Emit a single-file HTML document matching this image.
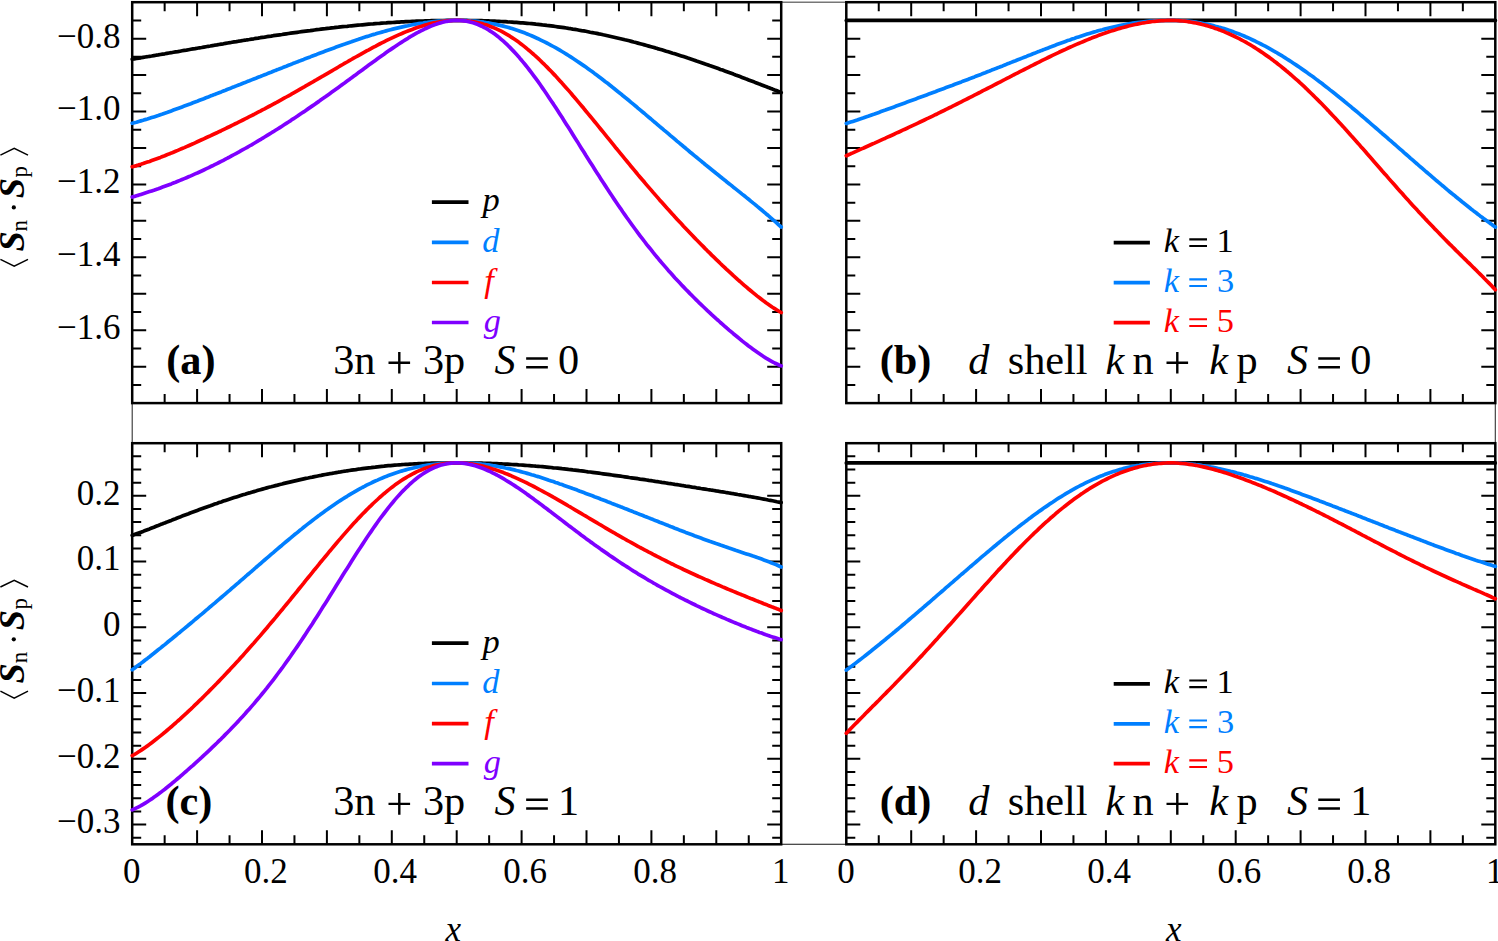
<!DOCTYPE html><html><head><meta charset="utf-8"><style>html,body{margin:0;padding:0;background:#fff;overflow:hidden}svg{display:block}text{font-family:"Liberation Serif",serif;}</style></head><body>
<svg width="1498" height="941" viewBox="0 0 1498 941">
<rect width="1498" height="941" fill="#fff"/>
<path d="M781.2,2.2H846.3" stroke="#777" stroke-width="1.4" fill="none"/>
<path d="M132.2,403.1V443.2M1495.3,403.1V443.2" stroke="#333" stroke-width="1.1" fill="none"/>
<path d="M781.2,844.3H846.3" stroke="#111" stroke-width="1.1" fill="none"/>
<path d="M164.65,2.2v9M164.65,403.1v-9M197.10,2.2v14M197.10,403.1v-14M229.55,2.2v9M229.55,403.1v-9M262.00,2.2v14M262.00,403.1v-14M294.45,2.2v9M294.45,403.1v-9M326.90,2.2v14M326.90,403.1v-14M359.35,2.2v9M359.35,403.1v-9M391.80,2.2v14M391.80,403.1v-14M424.25,2.2v9M424.25,403.1v-9M456.70,2.2v14M456.70,403.1v-14M489.15,2.2v9M489.15,403.1v-9M521.60,2.2v14M521.60,403.1v-14M554.05,2.2v9M554.05,403.1v-9M586.50,2.2v14M586.50,403.1v-14M618.95,2.2v9M618.95,403.1v-9M651.40,2.2v14M651.40,403.1v-14M683.85,2.2v9M683.85,403.1v-9M716.30,2.2v14M716.30,403.1v-14M748.75,2.2v9M748.75,403.1v-9M132.2,20.42h9M781.2,20.42h-9M132.2,38.65h14M781.2,38.65h-14M132.2,56.87h9M781.2,56.87h-9M132.2,75.09h14M781.2,75.09h-14M132.2,93.31h9M781.2,93.31h-9M132.2,111.54h14M781.2,111.54h-14M132.2,129.76h9M781.2,129.76h-9M132.2,147.98h14M781.2,147.98h-14M132.2,166.20h9M781.2,166.20h-9M132.2,184.43h14M781.2,184.43h-14M132.2,202.65h9M781.2,202.65h-9M132.2,220.87h14M781.2,220.87h-14M132.2,239.10h9M781.2,239.10h-9M132.2,257.32h14M781.2,257.32h-14M132.2,275.54h9M781.2,275.54h-9M132.2,293.76h14M781.2,293.76h-14M132.2,311.99h9M781.2,311.99h-9M132.2,330.21h14M781.2,330.21h-14M132.2,348.43h9M781.2,348.43h-9M132.2,366.65h14M781.2,366.65h-14M132.2,384.88h9M781.2,384.88h-9" stroke="#000" stroke-width="2" fill="none"/>
<rect x="132.2" y="2.2" width="649.0" height="400.90000000000003" fill="none" stroke="#000" stroke-width="2.5"/>
<path d="M878.75,2.2v9M878.75,403.1v-9M911.20,2.2v14M911.20,403.1v-14M943.65,2.2v9M943.65,403.1v-9M976.10,2.2v14M976.10,403.1v-14M1008.55,2.2v9M1008.55,403.1v-9M1041.00,2.2v14M1041.00,403.1v-14M1073.45,2.2v9M1073.45,403.1v-9M1105.90,2.2v14M1105.90,403.1v-14M1138.35,2.2v9M1138.35,403.1v-9M1170.80,2.2v14M1170.80,403.1v-14M1203.25,2.2v9M1203.25,403.1v-9M1235.70,2.2v14M1235.70,403.1v-14M1268.15,2.2v9M1268.15,403.1v-9M1300.60,2.2v14M1300.60,403.1v-14M1333.05,2.2v9M1333.05,403.1v-9M1365.50,2.2v14M1365.50,403.1v-14M1397.95,2.2v9M1397.95,403.1v-9M1430.40,2.2v14M1430.40,403.1v-14M1462.85,2.2v9M1462.85,403.1v-9M846.3,20.42h9M1495.3,20.42h-9M846.3,38.65h14M1495.3,38.65h-14M846.3,56.87h9M1495.3,56.87h-9M846.3,75.09h14M1495.3,75.09h-14M846.3,93.31h9M1495.3,93.31h-9M846.3,111.54h14M1495.3,111.54h-14M846.3,129.76h9M1495.3,129.76h-9M846.3,147.98h14M1495.3,147.98h-14M846.3,166.20h9M1495.3,166.20h-9M846.3,184.43h14M1495.3,184.43h-14M846.3,202.65h9M1495.3,202.65h-9M846.3,220.87h14M1495.3,220.87h-14M846.3,239.10h9M1495.3,239.10h-9M846.3,257.32h14M1495.3,257.32h-14M846.3,275.54h9M1495.3,275.54h-9M846.3,293.76h14M1495.3,293.76h-14M846.3,311.99h9M1495.3,311.99h-9M846.3,330.21h14M1495.3,330.21h-14M846.3,348.43h9M1495.3,348.43h-9M846.3,366.65h14M1495.3,366.65h-14M846.3,384.88h9M1495.3,384.88h-9" stroke="#000" stroke-width="2" fill="none"/>
<rect x="846.3" y="2.2" width="649.0" height="400.90000000000003" fill="none" stroke="#000" stroke-width="2.5"/>
<path d="M164.65,443.2v9M164.65,844.3v-9M197.10,443.2v14M197.10,844.3v-14M229.55,443.2v9M229.55,844.3v-9M262.00,443.2v14M262.00,844.3v-14M294.45,443.2v9M294.45,844.3v-9M326.90,443.2v14M326.90,844.3v-14M359.35,443.2v9M359.35,844.3v-9M391.80,443.2v14M391.80,844.3v-14M424.25,443.2v9M424.25,844.3v-9M456.70,443.2v14M456.70,844.3v-14M489.15,443.2v9M489.15,844.3v-9M521.60,443.2v14M521.60,844.3v-14M554.05,443.2v9M554.05,844.3v-9M586.50,443.2v14M586.50,844.3v-14M618.95,443.2v9M618.95,844.3v-9M651.40,443.2v14M651.40,844.3v-14M683.85,443.2v9M683.85,844.3v-9M716.30,443.2v14M716.30,844.3v-14M748.75,443.2v9M748.75,844.3v-9M132.2,456.35h9M781.2,456.35h-9M132.2,469.50h9M781.2,469.50h-9M132.2,482.65h9M781.2,482.65h-9M132.2,495.80h14M781.2,495.80h-14M132.2,508.95h9M781.2,508.95h-9M132.2,522.10h9M781.2,522.10h-9M132.2,535.26h9M781.2,535.26h-9M132.2,548.41h9M781.2,548.41h-9M132.2,561.56h14M781.2,561.56h-14M132.2,574.71h9M781.2,574.71h-9M132.2,587.86h9M781.2,587.86h-9M132.2,601.01h9M781.2,601.01h-9M132.2,614.16h9M781.2,614.16h-9M132.2,627.31h14M781.2,627.31h-14M132.2,640.46h9M781.2,640.46h-9M132.2,653.61h9M781.2,653.61h-9M132.2,666.76h9M781.2,666.76h-9M132.2,679.91h9M781.2,679.91h-9M132.2,693.07h14M781.2,693.07h-14M132.2,706.22h9M781.2,706.22h-9M132.2,719.37h9M781.2,719.37h-9M132.2,732.52h9M781.2,732.52h-9M132.2,745.67h9M781.2,745.67h-9M132.2,758.82h14M781.2,758.82h-14M132.2,771.97h9M781.2,771.97h-9M132.2,785.12h9M781.2,785.12h-9M132.2,798.27h9M781.2,798.27h-9M132.2,811.42h9M781.2,811.42h-9M132.2,824.57h14M781.2,824.57h-14M132.2,837.72h9M781.2,837.72h-9" stroke="#000" stroke-width="2" fill="none"/>
<rect x="132.2" y="443.2" width="649.0" height="401.09999999999997" fill="none" stroke="#000" stroke-width="2.5"/>
<path d="M878.75,443.2v9M878.75,844.3v-9M911.20,443.2v14M911.20,844.3v-14M943.65,443.2v9M943.65,844.3v-9M976.10,443.2v14M976.10,844.3v-14M1008.55,443.2v9M1008.55,844.3v-9M1041.00,443.2v14M1041.00,844.3v-14M1073.45,443.2v9M1073.45,844.3v-9M1105.90,443.2v14M1105.90,844.3v-14M1138.35,443.2v9M1138.35,844.3v-9M1170.80,443.2v14M1170.80,844.3v-14M1203.25,443.2v9M1203.25,844.3v-9M1235.70,443.2v14M1235.70,844.3v-14M1268.15,443.2v9M1268.15,844.3v-9M1300.60,443.2v14M1300.60,844.3v-14M1333.05,443.2v9M1333.05,844.3v-9M1365.50,443.2v14M1365.50,844.3v-14M1397.95,443.2v9M1397.95,844.3v-9M1430.40,443.2v14M1430.40,844.3v-14M1462.85,443.2v9M1462.85,844.3v-9M846.3,456.35h9M1495.3,456.35h-9M846.3,469.50h9M1495.3,469.50h-9M846.3,482.65h9M1495.3,482.65h-9M846.3,495.80h14M1495.3,495.80h-14M846.3,508.95h9M1495.3,508.95h-9M846.3,522.10h9M1495.3,522.10h-9M846.3,535.26h9M1495.3,535.26h-9M846.3,548.41h9M1495.3,548.41h-9M846.3,561.56h14M1495.3,561.56h-14M846.3,574.71h9M1495.3,574.71h-9M846.3,587.86h9M1495.3,587.86h-9M846.3,601.01h9M1495.3,601.01h-9M846.3,614.16h9M1495.3,614.16h-9M846.3,627.31h14M1495.3,627.31h-14M846.3,640.46h9M1495.3,640.46h-9M846.3,653.61h9M1495.3,653.61h-9M846.3,666.76h9M1495.3,666.76h-9M846.3,679.91h9M1495.3,679.91h-9M846.3,693.07h14M1495.3,693.07h-14M846.3,706.22h9M1495.3,706.22h-9M846.3,719.37h9M1495.3,719.37h-9M846.3,732.52h9M1495.3,732.52h-9M846.3,745.67h9M1495.3,745.67h-9M846.3,758.82h14M1495.3,758.82h-14M846.3,771.97h9M1495.3,771.97h-9M846.3,785.12h9M1495.3,785.12h-9M846.3,798.27h9M1495.3,798.27h-9M846.3,811.42h9M1495.3,811.42h-9M846.3,824.57h14M1495.3,824.57h-14M846.3,837.72h9M1495.3,837.72h-9" stroke="#000" stroke-width="2" fill="none"/>
<rect x="846.3" y="443.2" width="649.0" height="401.09999999999997" fill="none" stroke="#000" stroke-width="2.5"/>
<g fill="none" stroke-width="3.7" stroke-linejoin="round" stroke-linecap="round">
<path d="M132.2,59.2L134.4,58.8L136.5,58.5L138.7,58.1L140.9,57.8L143.1,57.4L145.2,57.0L147.4,56.7L149.6,56.3L151.7,56.0L153.9,55.6L156.1,55.2L158.2,54.9L160.4,54.5L162.6,54.1L164.8,53.8L166.9,53.4L169.1,53.0L171.3,52.7L173.4,52.3L175.6,51.9L177.8,51.6L180.0,51.2L182.1,50.8L184.3,50.4L186.5,50.1L188.6,49.7L190.8,49.3L193.0,48.9L195.1,48.6L197.3,48.2L199.5,47.8L201.7,47.5L203.8,47.1L206.0,46.7L208.2,46.3L210.3,46.0L212.5,45.6L214.7,45.2L216.9,44.9L219.0,44.5L221.2,44.1L223.4,43.8L225.5,43.4L227.7,43.0L229.9,42.7L232.0,42.3L234.2,41.9L236.4,41.6L238.6,41.2L240.7,40.9L242.9,40.5L245.1,40.2L247.2,39.8L249.4,39.5L251.6,39.1L253.8,38.8L255.9,38.4L258.1,38.1L260.3,37.7L262.4,37.4L264.6,37.1L266.8,36.7L268.9,36.4L271.1,36.1L273.3,35.7L275.5,35.4L277.6,35.1L279.8,34.8L282.0,34.5L284.1,34.1L286.3,33.8L288.5,33.5L290.7,33.2L292.8,32.9L295.0,32.6L297.2,32.3L299.3,32.0L301.5,31.7L303.7,31.4L305.8,31.1L308.0,30.8L310.2,30.6L312.4,30.3L314.5,30.0L316.7,29.7L318.9,29.5L321.0,29.2L323.2,28.9L325.4,28.7L327.6,28.4L329.7,28.2L331.9,27.9L334.1,27.7L336.2,27.4L338.4,27.2L340.6,26.9L342.7,26.7L344.9,26.5L347.1,26.3L349.3,26.0L351.4,25.8L353.6,25.6L355.8,25.4L357.9,25.2L360.1,25.0L362.3,24.8L364.5,24.6L366.6,24.4L368.8,24.2L371.0,24.0L373.1,23.9L375.3,23.7L377.5,23.5L379.6,23.4L381.8,23.2L384.0,23.0L386.2,22.9L388.3,22.7L390.5,22.6L392.7,22.5L394.8,22.3L397.0,22.2L399.2,22.1L401.4,21.9L403.5,21.8L405.7,21.7L407.9,21.6L410.0,21.5L412.2,21.4L414.4,21.3L416.5,21.2L418.7,21.1L420.9,21.1L423.1,21.0L425.2,20.9L427.4,20.8L429.6,20.8L431.7,20.7L433.9,20.7L436.1,20.6L438.3,20.6L440.4,20.5L442.6,20.5L444.8,20.5L446.9,20.4L449.1,20.4L451.3,20.4L453.4,20.4L455.6,20.4L457.8,20.4L460.0,20.4L462.1,20.4L464.3,20.4L466.5,20.4L468.6,20.5L470.8,20.5L473.0,20.5L475.1,20.6L477.3,20.6L479.5,20.7L481.7,20.7L483.8,20.8L486.0,20.8L488.2,20.9L490.3,21.0L492.5,21.1L494.7,21.2L496.9,21.3L499.0,21.4L501.2,21.5L503.4,21.6L505.5,21.7L507.7,21.9L509.9,22.0L512.0,22.1L514.2,22.3L516.4,22.4L518.6,22.6L520.7,22.8L522.9,22.9L525.1,23.1L527.2,23.3L529.4,23.5L531.6,23.7L533.8,23.9L535.9,24.2L538.1,24.4L540.3,24.6L542.4,24.9L544.6,25.1L546.8,25.4L548.9,25.6L551.1,25.9L553.3,26.2L555.5,26.5L557.6,26.8L559.8,27.1L562.0,27.4L564.1,27.7L566.3,28.0L568.5,28.4L570.7,28.7L572.8,29.1L575.0,29.4L577.2,29.8L579.3,30.2L581.5,30.6L583.7,30.9L585.8,31.3L588.0,31.7L590.2,32.2L592.4,32.6L594.5,33.0L596.7,33.4L598.9,33.9L601.0,34.3L603.2,34.8L605.4,35.2L607.6,35.7L609.7,36.2L611.9,36.7L614.1,37.2L616.2,37.7L618.4,38.2L620.6,38.7L622.7,39.2L624.9,39.8L627.1,40.3L629.3,40.8L631.4,41.4L633.6,42.0L635.8,42.5L637.9,43.1L640.1,43.7L642.3,44.3L644.5,44.9L646.6,45.5L648.8,46.1L651.0,46.7L653.1,47.3L655.3,47.9L657.5,48.6L659.6,49.2L661.8,49.8L664.0,50.5L666.2,51.2L668.3,51.8L670.5,52.5L672.7,53.2L674.8,53.8L677.0,54.5L679.2,55.2L681.4,55.9L683.5,56.6L685.7,57.3L687.9,58.1L690.0,58.8L692.2,59.5L694.4,60.2L696.5,61.0L698.7,61.7L700.9,62.4L703.1,63.2L705.2,64.0L707.4,64.7L709.6,65.5L711.7,66.2L713.9,67.0L716.1,67.8L718.3,68.6L720.4,69.4L722.6,70.1L724.8,70.9L726.9,71.7L729.1,72.5L731.3,73.3L733.4,74.1L735.6,75.0L737.8,75.8L740.0,76.6L742.1,77.4L744.3,78.2L746.5,79.1L748.6,79.9L750.8,80.7L753.0,81.5L755.2,82.4L757.3,83.2L759.5,84.1L761.7,84.9L763.8,85.7L766.0,86.6L768.2,87.4L770.3,88.3L772.5,89.1L774.7,90.0L776.9,90.8L779.0,91.7L781.2,92.6" stroke="#000000"/>
<path d="M132.2,123.3L134.4,122.7L136.5,122.2L138.7,121.5L140.9,120.9L143.1,120.3L145.2,119.6L147.4,119.0L149.6,118.3L151.7,117.6L153.9,116.9L156.1,116.2L158.2,115.5L160.4,114.7L162.6,114.0L164.8,113.2L166.9,112.5L169.1,111.7L171.3,110.9L173.4,110.1L175.6,109.3L177.8,108.5L180.0,107.7L182.1,106.9L184.3,106.1L186.5,105.3L188.6,104.5L190.8,103.7L193.0,102.8L195.1,102.0L197.3,101.2L199.5,100.3L201.7,99.5L203.8,98.7L206.0,97.8L208.2,97.0L210.3,96.1L212.5,95.3L214.7,94.4L216.9,93.6L219.0,92.7L221.2,91.9L223.4,91.0L225.5,90.2L227.7,89.3L229.9,88.5L232.0,87.6L234.2,86.8L236.4,85.9L238.6,85.0L240.7,84.2L242.9,83.3L245.1,82.5L247.2,81.6L249.4,80.8L251.6,79.9L253.8,79.0L255.9,78.2L258.1,77.3L260.3,76.5L262.4,75.6L264.6,74.7L266.8,73.9L268.9,73.0L271.1,72.2L273.3,71.3L275.5,70.4L277.6,69.6L279.8,68.7L282.0,67.9L284.1,67.0L286.3,66.2L288.5,65.3L290.7,64.5L292.8,63.6L295.0,62.8L297.2,61.9L299.3,61.1L301.5,60.2L303.7,59.4L305.8,58.5L308.0,57.7L310.2,56.9L312.4,56.0L314.5,55.2L316.7,54.4L318.9,53.5L321.0,52.7L323.2,51.9L325.4,51.1L327.6,50.3L329.7,49.5L331.9,48.7L334.1,47.9L336.2,47.1L338.4,46.3L340.6,45.5L342.7,44.7L344.9,44.0L347.1,43.2L349.3,42.4L351.4,41.7L353.6,40.9L355.8,40.2L357.9,39.5L360.1,38.7L362.3,38.0L364.5,37.3L366.6,36.6L368.8,36.0L371.0,35.3L373.1,34.6L375.3,34.0L377.5,33.3L379.6,32.7L381.8,32.1L384.0,31.5L386.2,30.9L388.3,30.3L390.5,29.7L392.7,29.1L394.8,28.6L397.0,28.1L399.2,27.6L401.4,27.1L403.5,26.6L405.7,26.1L407.9,25.7L410.0,25.2L412.2,24.8L414.4,24.4L416.5,24.0L418.7,23.6L420.9,23.3L423.1,23.0L425.2,22.6L427.4,22.4L429.6,22.1L431.7,21.8L433.9,21.6L436.1,21.4L438.3,21.2L440.4,21.0L442.6,20.9L444.8,20.7L446.9,20.6L449.1,20.5L451.3,20.5L453.4,20.4L455.6,20.4L457.8,20.4L460.0,20.4L462.1,20.5L464.3,20.5L466.5,20.6L468.6,20.7L470.8,20.9L473.0,21.0L475.1,21.2L477.3,21.4L479.5,21.7L481.7,21.9L483.8,22.2L486.0,22.6L488.2,22.9L490.3,23.3L492.5,23.7L494.7,24.1L496.9,24.6L499.0,25.1L501.2,25.6L503.4,26.1L505.5,26.7L507.7,27.3L509.9,27.9L512.0,28.6L514.2,29.3L516.4,30.0L518.6,30.7L520.7,31.5L522.9,32.3L525.1,33.1L527.2,34.0L529.4,34.9L531.6,35.8L533.8,36.8L535.9,37.7L538.1,38.7L540.3,39.8L542.4,40.8L544.6,41.9L546.8,43.0L548.9,44.1L551.1,45.3L553.3,46.5L555.5,47.7L557.6,48.9L559.8,50.2L562.0,51.5L564.1,52.8L566.3,54.1L568.5,55.5L570.7,56.9L572.8,58.3L575.0,59.7L577.2,61.2L579.3,62.6L581.5,64.1L583.7,65.6L585.8,67.1L588.0,68.7L590.2,70.3L592.4,71.8L594.5,73.4L596.7,75.0L598.9,76.7L601.0,78.3L603.2,80.0L605.4,81.7L607.6,83.3L609.7,85.0L611.9,86.8L614.1,88.5L616.2,90.2L618.4,92.0L620.6,93.7L622.7,95.5L624.9,97.3L627.1,99.0L629.3,100.8L631.4,102.6L633.6,104.4L635.8,106.2L637.9,108.1L640.1,109.9L642.3,111.7L644.5,113.5L646.6,115.4L648.8,117.2L651.0,119.0L653.1,120.9L655.3,122.7L657.5,124.6L659.6,126.4L661.8,128.2L664.0,130.1L666.2,131.9L668.3,133.7L670.5,135.6L672.7,137.4L674.8,139.2L677.0,141.1L679.2,142.9L681.4,144.7L683.5,146.5L685.7,148.3L687.9,150.2L690.0,152.0L692.2,153.8L694.4,155.6L696.5,157.3L698.7,159.1L700.9,160.9L703.1,162.7L705.2,164.5L707.4,166.2L709.6,168.0L711.7,169.7L713.9,171.5L716.1,173.3L718.3,175.0L720.4,176.7L722.6,178.5L724.8,180.2L726.9,182.0L729.1,183.7L731.3,185.4L733.4,187.2L735.6,188.9L737.8,190.6L740.0,192.4L742.1,194.1L744.3,195.8L746.5,197.6L748.6,199.3L750.8,201.1L753.0,202.9L755.2,204.6L757.3,206.4L759.5,208.2L761.7,210.0L763.8,211.8L766.0,213.7L768.2,215.5L770.3,217.4L772.5,219.3L774.7,221.2L776.9,223.1L779.0,225.1L781.2,227.0" stroke="#007FFF"/>
<path d="M132.2,166.8L134.4,166.2L136.5,165.6L138.7,164.9L140.9,164.3L143.1,163.6L145.2,162.8L147.4,162.1L149.6,161.4L151.7,160.6L153.9,159.8L156.1,159.0L158.2,158.2L160.4,157.4L162.6,156.5L164.8,155.7L166.9,154.8L169.1,153.9L171.3,153.1L173.4,152.2L175.6,151.3L177.8,150.4L180.0,149.4L182.1,148.5L184.3,147.6L186.5,146.6L188.6,145.7L190.8,144.7L193.0,143.8L195.1,142.8L197.3,141.8L199.5,140.8L201.7,139.8L203.8,138.8L206.0,137.8L208.2,136.8L210.3,135.8L212.5,134.8L214.7,133.8L216.9,132.8L219.0,131.7L221.2,130.7L223.4,129.6L225.5,128.6L227.7,127.5L229.9,126.5L232.0,125.4L234.2,124.3L236.4,123.3L238.6,122.2L240.7,121.1L242.9,120.0L245.1,118.9L247.2,117.8L249.4,116.7L251.6,115.6L253.8,114.5L255.9,113.3L258.1,112.2L260.3,111.1L262.4,109.9L264.6,108.8L266.8,107.6L268.9,106.5L271.1,105.3L273.3,104.1L275.5,103.0L277.6,101.8L279.8,100.6L282.0,99.4L284.1,98.2L286.3,97.0L288.5,95.8L290.7,94.6L292.8,93.3L295.0,92.1L297.2,90.9L299.3,89.7L301.5,88.4L303.7,87.2L305.8,85.9L308.0,84.7L310.2,83.4L312.4,82.2L314.5,80.9L316.7,79.7L318.9,78.4L321.0,77.1L323.2,75.9L325.4,74.6L327.6,73.3L329.7,72.1L331.9,70.8L334.1,69.5L336.2,68.3L338.4,67.0L340.6,65.7L342.7,64.5L344.9,63.2L347.1,62.0L349.3,60.7L351.4,59.5L353.6,58.2L355.8,57.0L357.9,55.8L360.1,54.6L362.3,53.3L364.5,52.1L366.6,50.9L368.8,49.8L371.0,48.6L373.1,47.4L375.3,46.3L377.5,45.1L379.6,44.0L381.8,42.9L384.0,41.8L386.2,40.7L388.3,39.6L390.5,38.6L392.7,37.6L394.8,36.6L397.0,35.6L399.2,34.6L401.4,33.7L403.5,32.8L405.7,31.9L407.9,31.0L410.0,30.2L412.2,29.4L414.4,28.6L416.5,27.8L418.7,27.1L420.9,26.4L423.1,25.7L425.2,25.1L427.4,24.5L429.6,23.9L431.7,23.4L433.9,22.9L436.1,22.5L438.3,22.1L440.4,21.7L442.6,21.4L444.8,21.1L446.9,20.9L449.1,20.7L451.3,20.6L453.4,20.5L455.6,20.4L457.8,20.4L460.0,20.4L462.1,20.5L464.3,20.7L466.5,20.8L468.6,21.1L470.8,21.3L473.0,21.7L475.1,22.0L477.3,22.5L479.5,23.0L481.7,23.5L483.8,24.2L486.0,24.8L488.2,25.6L490.3,26.4L492.5,27.2L494.7,28.1L496.9,29.1L499.0,30.1L501.2,31.2L503.4,32.4L505.5,33.6L507.7,34.9L509.9,36.2L512.0,37.6L514.2,39.0L516.4,40.5L518.6,42.1L520.7,43.7L522.9,45.4L525.1,47.1L527.2,48.9L529.4,50.7L531.6,52.6L533.8,54.5L535.9,56.4L538.1,58.4L540.3,60.5L542.4,62.6L544.6,64.7L546.8,66.9L548.9,69.1L551.1,71.3L553.3,73.6L555.5,75.9L557.6,78.3L559.8,80.7L562.0,83.1L564.1,85.5L566.3,87.9L568.5,90.4L570.7,92.9L572.8,95.5L575.0,98.0L577.2,100.6L579.3,103.1L581.5,105.7L583.7,108.3L585.8,111.0L588.0,113.6L590.2,116.2L592.4,118.9L594.5,121.5L596.7,124.2L598.9,126.9L601.0,129.5L603.2,132.2L605.4,134.9L607.6,137.6L609.7,140.2L611.9,142.9L614.1,145.6L616.2,148.3L618.4,150.9L620.6,153.6L622.7,156.2L624.9,158.9L627.1,161.5L629.3,164.1L631.4,166.8L633.6,169.4L635.8,172.0L637.9,174.6L640.1,177.2L642.3,179.7L644.5,182.3L646.6,184.9L648.8,187.4L651.0,189.9L653.1,192.4L655.3,194.9L657.5,197.4L659.6,199.9L661.8,202.3L664.0,204.8L666.2,207.2L668.3,209.6L670.5,212.0L672.7,214.4L674.8,216.8L677.0,219.2L679.2,221.5L681.4,223.8L683.5,226.2L685.7,228.5L687.9,230.8L690.0,233.0L692.2,235.3L694.4,237.6L696.5,239.8L698.7,242.0L700.9,244.2L703.1,246.4L705.2,248.6L707.4,250.8L709.6,252.9L711.7,255.1L713.9,257.2L716.1,259.3L718.3,261.4L720.4,263.5L722.6,265.6L724.8,267.6L726.9,269.7L729.1,271.7L731.3,273.7L733.4,275.7L735.6,277.6L737.8,279.6L740.0,281.5L742.1,283.4L744.3,285.3L746.5,287.2L748.6,289.0L750.8,290.8L753.0,292.6L755.2,294.4L757.3,296.1L759.5,297.8L761.7,299.5L763.8,301.1L766.0,302.7L768.2,304.2L770.3,305.7L772.5,307.2L774.7,308.6L776.9,310.0L779.0,311.3L781.2,312.5" stroke="#FF0000"/>
<path d="M132.2,197.0L134.4,196.4L136.5,195.7L138.7,195.1L140.9,194.4L143.1,193.7L145.2,193.0L147.4,192.3L149.6,191.6L151.7,190.9L153.9,190.2L156.1,189.4L158.2,188.7L160.4,187.9L162.6,187.1L164.8,186.3L166.9,185.5L169.1,184.7L171.3,183.9L173.4,183.0L175.6,182.2L177.8,181.3L180.0,180.4L182.1,179.5L184.3,178.6L186.5,177.7L188.6,176.8L190.8,175.9L193.0,174.9L195.1,173.9L197.3,173.0L199.5,172.0L201.7,171.0L203.8,170.0L206.0,168.9L208.2,167.9L210.3,166.8L212.5,165.8L214.7,164.7L216.9,163.6L219.0,162.5L221.2,161.4L223.4,160.3L225.5,159.2L227.7,158.0L229.9,156.9L232.0,155.7L234.2,154.5L236.4,153.3L238.6,152.2L240.7,150.9L242.9,149.7L245.1,148.5L247.2,147.3L249.4,146.0L251.6,144.8L253.8,143.5L255.9,142.2L258.1,140.9L260.3,139.7L262.4,138.3L264.6,137.0L266.8,135.7L268.9,134.4L271.1,133.0L273.3,131.7L275.5,130.3L277.6,129.0L279.8,127.6L282.0,126.2L284.1,124.8L286.3,123.4L288.5,122.0L290.7,120.6L292.8,119.1L295.0,117.7L297.2,116.3L299.3,114.8L301.5,113.3L303.7,111.9L305.8,110.4L308.0,108.9L310.2,107.4L312.4,105.9L314.5,104.4L316.7,102.9L318.9,101.4L321.0,99.8L323.2,98.3L325.4,96.8L327.6,95.2L329.7,93.7L331.9,92.1L334.1,90.5L336.2,89.0L338.4,87.4L340.6,85.8L342.7,84.2L344.9,82.7L347.1,81.1L349.3,79.5L351.4,77.9L353.6,76.3L355.8,74.7L357.9,73.1L360.1,71.5L362.3,69.9L364.5,68.3L366.6,66.7L368.8,65.1L371.0,63.5L373.1,62.0L375.3,60.4L377.5,58.8L379.6,57.3L381.8,55.7L384.0,54.2L386.2,52.6L388.3,51.1L390.5,49.6L392.7,48.1L394.8,46.7L397.0,45.2L399.2,43.8L401.4,42.4L403.5,41.0L405.7,39.6L407.9,38.3L410.0,36.9L412.2,35.7L414.4,34.4L416.5,33.2L418.7,32.0L420.9,30.9L423.1,29.8L425.2,28.7L427.4,27.7L429.6,26.8L431.7,25.9L433.9,25.0L436.1,24.3L438.3,23.5L440.4,22.9L442.6,22.3L444.8,21.8L446.9,21.3L449.1,21.0L451.3,20.7L453.4,20.5L455.6,20.4L457.8,20.4L460.0,20.5L462.1,20.7L464.3,20.9L466.5,21.2L468.6,21.7L470.8,22.2L473.0,22.8L475.1,23.5L477.3,24.3L479.5,25.2L481.7,26.2L483.8,27.3L486.0,28.4L488.2,29.7L490.3,31.1L492.5,32.5L494.7,34.1L496.9,35.7L499.0,37.4L501.2,39.3L503.4,41.2L505.5,43.1L507.7,45.2L509.9,47.4L512.0,49.6L514.2,51.9L516.4,54.3L518.6,56.7L520.7,59.3L522.9,61.9L525.1,64.5L527.2,67.2L529.4,70.0L531.6,72.9L533.8,75.8L535.9,78.7L538.1,81.7L540.3,84.8L542.4,87.9L544.6,91.0L546.8,94.2L548.9,97.4L551.1,100.7L553.3,103.9L555.5,107.3L557.6,110.6L559.8,114.0L562.0,117.3L564.1,120.7L566.3,124.2L568.5,127.6L570.7,131.0L572.8,134.5L575.0,138.0L577.2,141.4L579.3,144.9L581.5,148.4L583.7,151.8L585.8,155.3L588.0,158.7L590.2,162.2L592.4,165.6L594.5,169.0L596.7,172.4L598.9,175.8L601.0,179.2L603.2,182.6L605.4,185.9L607.6,189.2L609.7,192.5L611.9,195.8L614.1,199.1L616.2,202.3L618.4,205.5L620.6,208.6L622.7,211.8L624.9,214.9L627.1,218.0L629.3,221.0L631.4,224.0L633.6,227.0L635.8,230.0L637.9,232.9L640.1,235.8L642.3,238.6L644.5,241.5L646.6,244.3L648.8,247.0L651.0,249.7L653.1,252.4L655.3,255.1L657.5,257.7L659.6,260.3L661.8,262.9L664.0,265.4L666.2,267.9L668.3,270.4L670.5,272.8L672.7,275.3L674.8,277.7L677.0,280.0L679.2,282.3L681.4,284.7L683.5,286.9L685.7,289.2L687.9,291.4L690.0,293.6L692.2,295.8L694.4,298.0L696.5,300.1L698.7,302.3L700.9,304.4L703.1,306.5L705.2,308.5L707.4,310.6L709.6,312.6L711.7,314.6L713.9,316.6L716.1,318.6L718.3,320.5L720.4,322.5L722.6,324.4L724.8,326.3L726.9,328.2L729.1,330.1L731.3,331.9L733.4,333.7L735.6,335.5L737.8,337.3L740.0,339.1L742.1,340.9L744.3,342.6L746.5,344.3L748.6,346.0L750.8,347.6L753.0,349.2L755.2,350.8L757.3,352.3L759.5,353.8L761.7,355.3L763.8,356.7L766.0,358.1L768.2,359.4L770.3,360.6L772.5,361.8L774.7,363.0L776.9,364.0L779.0,365.0L781.2,365.9" stroke="#7F00FF"/>
</g>
<g fill="none" stroke-width="3.7" stroke-linejoin="round" stroke-linecap="round">
<path d="M846.3,20.4H1495.3" stroke="#000000"/>
<path d="M846.3,123.5L848.5,122.8L850.6,122.1L852.8,121.4L855.0,120.7L857.2,120.0L859.3,119.2L861.5,118.5L863.7,117.8L865.8,117.0L868.0,116.3L870.2,115.5L872.3,114.7L874.5,114.0L876.7,113.2L878.9,112.4L881.0,111.6L883.2,110.8L885.4,110.1L887.5,109.3L889.7,108.5L891.9,107.7L894.1,106.9L896.2,106.1L898.4,105.3L900.6,104.5L902.7,103.7L904.9,102.9L907.1,102.1L909.2,101.3L911.4,100.5L913.6,99.7L915.8,98.9L917.9,98.1L920.1,97.3L922.3,96.5L924.4,95.7L926.6,94.9L928.8,94.1L931.0,93.3L933.1,92.5L935.3,91.7L937.5,90.8L939.6,90.0L941.8,89.2L944.0,88.4L946.1,87.6L948.3,86.8L950.5,86.0L952.7,85.2L954.8,84.3L957.0,83.5L959.2,82.7L961.3,81.9L963.5,81.0L965.7,80.2L967.9,79.4L970.0,78.6L972.2,77.7L974.4,76.9L976.5,76.0L978.7,75.2L980.9,74.4L983.0,73.5L985.2,72.7L987.4,71.8L989.6,71.0L991.7,70.1L993.9,69.3L996.1,68.4L998.2,67.6L1000.4,66.7L1002.6,65.9L1004.8,65.0L1006.9,64.1L1009.1,63.3L1011.3,62.4L1013.4,61.5L1015.6,60.7L1017.8,59.8L1019.9,59.0L1022.1,58.1L1024.3,57.2L1026.5,56.4L1028.6,55.5L1030.8,54.7L1033.0,53.8L1035.1,53.0L1037.3,52.1L1039.5,51.3L1041.7,50.4L1043.8,49.6L1046.0,48.7L1048.2,47.9L1050.3,47.1L1052.5,46.2L1054.7,45.4L1056.8,44.6L1059.0,43.8L1061.2,43.0L1063.4,42.2L1065.5,41.4L1067.7,40.6L1069.9,39.9L1072.0,39.1L1074.2,38.4L1076.4,37.6L1078.6,36.9L1080.7,36.2L1082.9,35.5L1085.1,34.8L1087.2,34.1L1089.4,33.4L1091.6,32.7L1093.7,32.1L1095.9,31.5L1098.1,30.8L1100.3,30.2L1102.4,29.7L1104.6,29.1L1106.8,28.5L1108.9,28.0L1111.1,27.5L1113.3,27.0L1115.5,26.5L1117.6,26.0L1119.8,25.5L1122.0,25.1L1124.1,24.7L1126.3,24.3L1128.5,23.9L1130.6,23.5L1132.8,23.2L1135.0,22.9L1137.2,22.6L1139.3,22.3L1141.5,22.0L1143.7,21.8L1145.8,21.6L1148.0,21.4L1150.2,21.2L1152.4,21.0L1154.5,20.9L1156.7,20.8L1158.9,20.7L1161.0,20.6L1163.2,20.5L1165.4,20.5L1167.5,20.4L1169.7,20.4L1171.9,20.4L1174.1,20.4L1176.2,20.5L1178.4,20.6L1180.6,20.7L1182.7,20.8L1184.9,21.0L1187.1,21.2L1189.2,21.4L1191.4,21.6L1193.6,21.9L1195.8,22.2L1197.9,22.5L1200.1,22.9L1202.3,23.3L1204.4,23.7L1206.6,24.1L1208.8,24.6L1211.0,25.1L1213.1,25.6L1215.3,26.2L1217.5,26.7L1219.6,27.4L1221.8,28.0L1224.0,28.6L1226.1,29.3L1228.3,30.1L1230.5,30.8L1232.7,31.6L1234.8,32.4L1237.0,33.2L1239.2,34.0L1241.3,34.9L1243.5,35.8L1245.7,36.8L1247.9,37.7L1250.0,38.7L1252.2,39.7L1254.4,40.7L1256.5,41.8L1258.7,42.9L1260.9,44.0L1263.0,45.1L1265.2,46.2L1267.4,47.4L1269.6,48.6L1271.7,49.8L1273.9,51.1L1276.1,52.3L1278.2,53.6L1280.4,54.9L1282.6,56.2L1284.8,57.6L1286.9,59.0L1289.1,60.4L1291.3,61.8L1293.4,63.2L1295.6,64.6L1297.8,66.1L1299.9,67.6L1302.1,69.1L1304.3,70.6L1306.5,72.1L1308.6,73.7L1310.8,75.3L1313.0,76.8L1315.1,78.4L1317.3,80.1L1319.5,81.7L1321.7,83.3L1323.8,85.0L1326.0,86.7L1328.2,88.4L1330.3,90.1L1332.5,91.8L1334.7,93.5L1336.8,95.2L1339.0,97.0L1341.2,98.7L1343.4,100.5L1345.5,102.3L1347.7,104.1L1349.9,105.9L1352.0,107.7L1354.2,109.5L1356.4,111.3L1358.6,113.1L1360.7,115.0L1362.9,116.8L1365.1,118.7L1367.2,120.5L1369.4,122.4L1371.6,124.3L1373.7,126.1L1375.9,128.0L1378.1,129.9L1380.3,131.8L1382.4,133.7L1384.6,135.5L1386.8,137.4L1388.9,139.3L1391.1,141.2L1393.3,143.1L1395.5,145.0L1397.6,146.9L1399.8,148.8L1402.0,150.7L1404.1,152.6L1406.3,154.5L1408.5,156.4L1410.6,158.3L1412.8,160.2L1415.0,162.1L1417.2,164.0L1419.3,165.9L1421.5,167.7L1423.7,169.6L1425.8,171.5L1428.0,173.3L1430.2,175.2L1432.4,177.1L1434.5,178.9L1436.7,180.8L1438.9,182.6L1441.0,184.4L1443.2,186.2L1445.4,188.1L1447.5,189.9L1449.7,191.7L1451.9,193.5L1454.1,195.2L1456.2,197.0L1458.4,198.8L1460.6,200.5L1462.7,202.3L1464.9,204.0L1467.1,205.7L1469.3,207.5L1471.4,209.2L1473.6,210.9L1475.8,212.5L1477.9,214.2L1480.1,215.9L1482.3,217.5L1484.4,219.1L1486.6,220.7L1488.8,222.3L1491.0,223.9L1493.1,225.5L1495.3,227.1" stroke="#007FFF"/>
<path d="M846.3,155.8L848.5,154.8L850.6,153.8L852.8,152.9L855.0,151.9L857.2,150.9L859.3,149.9L861.5,148.9L863.7,148.0L865.8,147.0L868.0,146.0L870.2,145.0L872.3,144.0L874.5,143.1L876.7,142.1L878.9,141.1L881.0,140.1L883.2,139.1L885.4,138.2L887.5,137.2L889.7,136.2L891.9,135.2L894.1,134.2L896.2,133.2L898.4,132.2L900.6,131.2L902.7,130.2L904.9,129.2L907.1,128.2L909.2,127.2L911.4,126.1L913.6,125.1L915.8,124.1L917.9,123.1L920.1,122.0L922.3,121.0L924.4,120.0L926.6,118.9L928.8,117.9L931.0,116.8L933.1,115.8L935.3,114.7L937.5,113.7L939.6,112.6L941.8,111.5L944.0,110.5L946.1,109.4L948.3,108.3L950.5,107.3L952.7,106.2L954.8,105.1L957.0,104.0L959.2,102.9L961.3,101.8L963.5,100.7L965.7,99.6L967.9,98.5L970.0,97.4L972.2,96.3L974.4,95.2L976.5,94.1L978.7,93.0L980.9,91.9L983.0,90.7L985.2,89.6L987.4,88.5L989.6,87.4L991.7,86.3L993.9,85.1L996.1,84.0L998.2,82.9L1000.4,81.8L1002.6,80.7L1004.8,79.5L1006.9,78.4L1009.1,77.3L1011.3,76.2L1013.4,75.0L1015.6,73.9L1017.8,72.8L1019.9,71.7L1022.1,70.6L1024.3,69.5L1026.5,68.4L1028.6,67.3L1030.8,66.2L1033.0,65.1L1035.1,64.0L1037.3,62.9L1039.5,61.8L1041.7,60.7L1043.8,59.7L1046.0,58.6L1048.2,57.5L1050.3,56.5L1052.5,55.4L1054.7,54.4L1056.8,53.4L1059.0,52.3L1061.2,51.3L1063.4,50.3L1065.5,49.3L1067.7,48.3L1069.9,47.3L1072.0,46.4L1074.2,45.4L1076.4,44.4L1078.6,43.5L1080.7,42.6L1082.9,41.7L1085.1,40.8L1087.2,39.9L1089.4,39.0L1091.6,38.1L1093.7,37.3L1095.9,36.5L1098.1,35.6L1100.3,34.8L1102.4,34.0L1104.6,33.3L1106.8,32.5L1108.9,31.8L1111.1,31.1L1113.3,30.4L1115.5,29.7L1117.6,29.0L1119.8,28.4L1122.0,27.8L1124.1,27.2L1126.3,26.6L1128.5,26.0L1130.6,25.5L1132.8,25.0L1135.0,24.5L1137.2,24.1L1139.3,23.6L1141.5,23.2L1143.7,22.8L1145.8,22.5L1148.0,22.1L1150.2,21.8L1152.4,21.5L1154.5,21.3L1156.7,21.1L1158.9,20.9L1161.0,20.7L1163.2,20.6L1165.4,20.5L1167.5,20.4L1169.7,20.4L1171.9,20.4L1174.1,20.4L1176.2,20.5L1178.4,20.6L1180.6,20.8L1182.7,21.0L1184.9,21.2L1187.1,21.5L1189.2,21.8L1191.4,22.2L1193.6,22.6L1195.8,23.0L1197.9,23.4L1200.1,23.9L1202.3,24.5L1204.4,25.0L1206.6,25.6L1208.8,26.3L1211.0,26.9L1213.1,27.6L1215.3,28.4L1217.5,29.1L1219.6,29.9L1221.8,30.8L1224.0,31.6L1226.1,32.6L1228.3,33.5L1230.5,34.5L1232.7,35.5L1234.8,36.5L1237.0,37.6L1239.2,38.7L1241.3,39.8L1243.5,41.0L1245.7,42.2L1247.9,43.5L1250.0,44.7L1252.2,46.0L1254.4,47.4L1256.5,48.7L1258.7,50.1L1260.9,51.6L1263.0,53.1L1265.2,54.6L1267.4,56.1L1269.6,57.6L1271.7,59.2L1273.9,60.9L1276.1,62.5L1278.2,64.2L1280.4,65.9L1282.6,67.7L1284.8,69.5L1286.9,71.3L1289.1,73.1L1291.3,75.0L1293.4,76.9L1295.6,78.8L1297.8,80.7L1299.9,82.7L1302.1,84.7L1304.3,86.7L1306.5,88.8L1308.6,90.9L1310.8,93.0L1313.0,95.1L1315.1,97.2L1317.3,99.4L1319.5,101.6L1321.7,103.8L1323.8,106.0L1326.0,108.3L1328.2,110.6L1330.3,112.9L1332.5,115.2L1334.7,117.5L1336.8,119.8L1339.0,122.2L1341.2,124.5L1343.4,126.9L1345.5,129.3L1347.7,131.7L1349.9,134.2L1352.0,136.6L1354.2,139.0L1356.4,141.5L1358.6,143.9L1360.7,146.4L1362.9,148.8L1365.1,151.3L1367.2,153.8L1369.4,156.3L1371.6,158.8L1373.7,161.2L1375.9,163.7L1378.1,166.2L1380.3,168.7L1382.4,171.2L1384.6,173.7L1386.8,176.1L1388.9,178.6L1391.1,181.1L1393.3,183.5L1395.5,186.0L1397.6,188.5L1399.8,190.9L1402.0,193.3L1404.1,195.8L1406.3,198.2L1408.5,200.6L1410.6,203.0L1412.8,205.4L1415.0,207.7L1417.2,210.1L1419.3,212.5L1421.5,214.8L1423.7,217.1L1425.8,219.4L1428.0,221.7L1430.2,224.0L1432.4,226.3L1434.5,228.6L1436.7,230.8L1438.9,233.0L1441.0,235.3L1443.2,237.5L1445.4,239.7L1447.5,241.9L1449.7,244.1L1451.9,246.2L1454.1,248.4L1456.2,250.6L1458.4,252.7L1460.6,254.9L1462.7,257.0L1464.9,259.1L1467.1,261.3L1469.3,263.4L1471.4,265.5L1473.6,267.7L1475.8,269.8L1477.9,272.0L1480.1,274.1L1482.3,276.3L1484.4,278.5L1486.6,280.7L1488.8,282.9L1491.0,285.1L1493.1,287.4L1495.3,289.7" stroke="#FF0000"/>
</g>
<g fill="none" stroke-width="3.7" stroke-linejoin="round" stroke-linecap="round">
<path d="M132.2,535.4L134.4,534.6L136.5,533.8L138.7,533.0L140.9,532.2L143.1,531.4L145.2,530.5L147.4,529.7L149.6,528.9L151.7,528.0L153.9,527.2L156.1,526.3L158.2,525.5L160.4,524.6L162.6,523.8L164.8,522.9L166.9,522.1L169.1,521.2L171.3,520.4L173.4,519.5L175.6,518.7L177.8,517.8L180.0,517.0L182.1,516.1L184.3,515.3L186.5,514.5L188.6,513.7L190.8,512.8L193.0,512.0L195.1,511.2L197.3,510.4L199.5,509.6L201.7,508.8L203.8,508.0L206.0,507.2L208.2,506.4L210.3,505.7L212.5,504.9L214.7,504.1L216.9,503.4L219.0,502.6L221.2,501.9L223.4,501.1L225.5,500.4L227.7,499.7L229.9,499.0L232.0,498.3L234.2,497.6L236.4,496.9L238.6,496.2L240.7,495.5L242.9,494.8L245.1,494.2L247.2,493.5L249.4,492.9L251.6,492.2L253.8,491.6L255.9,491.0L258.1,490.3L260.3,489.7L262.4,489.1L264.6,488.5L266.8,487.9L268.9,487.3L271.1,486.8L273.3,486.2L275.5,485.6L277.6,485.1L279.8,484.5L282.0,484.0L284.1,483.4L286.3,482.9L288.5,482.4L290.7,481.9L292.8,481.4L295.0,480.9L297.2,480.4L299.3,479.9L301.5,479.4L303.7,478.9L305.8,478.4L308.0,478.0L310.2,477.5L312.4,477.1L314.5,476.6L316.7,476.2L318.9,475.8L321.0,475.4L323.2,474.9L325.4,474.5L327.6,474.1L329.7,473.7L331.9,473.4L334.1,473.0L336.2,472.6L338.4,472.2L340.6,471.9L342.7,471.5L344.9,471.2L347.1,470.8L349.3,470.5L351.4,470.2L353.6,469.9L355.8,469.6L357.9,469.2L360.1,469.0L362.3,468.7L364.5,468.4L366.6,468.1L368.8,467.8L371.0,467.6L373.1,467.3L375.3,467.1L377.5,466.8L379.6,466.6L381.8,466.4L384.0,466.2L386.2,465.9L388.3,465.7L390.5,465.6L392.7,465.4L394.8,465.2L397.0,465.0L399.2,464.8L401.4,464.7L403.5,464.5L405.7,464.4L407.9,464.3L410.0,464.1L412.2,464.0L414.4,463.9L416.5,463.8L418.7,463.7L420.9,463.6L423.1,463.5L425.2,463.4L427.4,463.3L429.6,463.3L431.7,463.2L433.9,463.2L436.1,463.1L438.3,463.1L440.4,463.0L442.6,463.0L444.8,463.0L446.9,462.9L449.1,462.9L451.3,462.9L453.4,462.9L455.6,462.9L457.8,462.9L460.0,462.9L462.1,462.9L464.3,462.9L466.5,462.9L468.6,463.0L470.8,463.0L473.0,463.0L475.1,463.1L477.3,463.1L479.5,463.1L481.7,463.2L483.8,463.3L486.0,463.3L488.2,463.4L490.3,463.4L492.5,463.5L494.7,463.6L496.9,463.7L499.0,463.8L501.2,463.9L503.4,464.0L505.5,464.1L507.7,464.2L509.9,464.3L512.0,464.5L514.2,464.6L516.4,464.7L518.6,464.9L520.7,465.0L522.9,465.1L525.1,465.3L527.2,465.5L529.4,465.6L531.6,465.8L533.8,466.0L535.9,466.2L538.1,466.3L540.3,466.5L542.4,466.7L544.6,466.9L546.8,467.1L548.9,467.3L551.1,467.5L553.3,467.8L555.5,468.0L557.6,468.2L559.8,468.4L562.0,468.7L564.1,468.9L566.3,469.1L568.5,469.4L570.7,469.6L572.8,469.9L575.0,470.1L577.2,470.4L579.3,470.7L581.5,470.9L583.7,471.2L585.8,471.5L588.0,471.8L590.2,472.0L592.4,472.3L594.5,472.6L596.7,472.9L598.9,473.2L601.0,473.5L603.2,473.8L605.4,474.1L607.6,474.4L609.7,474.7L611.9,475.0L614.1,475.3L616.2,475.6L618.4,475.9L620.6,476.2L622.7,476.5L624.9,476.8L627.1,477.1L629.3,477.5L631.4,477.8L633.6,478.1L635.8,478.4L637.9,478.7L640.1,479.1L642.3,479.4L644.5,479.7L646.6,480.0L648.8,480.4L651.0,480.7L653.1,481.0L655.3,481.4L657.5,481.7L659.6,482.0L661.8,482.4L664.0,482.7L666.2,483.0L668.3,483.4L670.5,483.7L672.7,484.0L674.8,484.4L677.0,484.7L679.2,485.0L681.4,485.4L683.5,485.7L685.7,486.1L687.9,486.4L690.0,486.7L692.2,487.1L694.4,487.4L696.5,487.8L698.7,488.1L700.9,488.5L703.1,488.8L705.2,489.1L707.4,489.5L709.6,489.8L711.7,490.2L713.9,490.5L716.1,490.9L718.3,491.2L720.4,491.6L722.6,491.9L724.8,492.3L726.9,492.7L729.1,493.0L731.3,493.4L733.4,493.7L735.6,494.1L737.8,494.5L740.0,494.8L742.1,495.2L744.3,495.6L746.5,496.0L748.6,496.4L750.8,496.7L753.0,497.1L755.2,497.5L757.3,497.9L759.5,498.3L761.7,498.7L763.8,499.1L766.0,499.5L768.2,500.0L770.3,500.4L772.5,500.8L774.7,501.2L776.9,501.7L779.0,502.1L781.2,502.6" stroke="#000000"/>
<path d="M132.2,669.8L134.4,668.3L136.5,666.6L138.7,665.0L140.9,663.4L143.1,661.7L145.2,660.0L147.4,658.4L149.6,656.7L151.7,655.0L153.9,653.3L156.1,651.5L158.2,649.8L160.4,648.1L162.6,646.3L164.8,644.6L166.9,642.8L169.1,641.0L171.3,639.3L173.4,637.5L175.6,635.7L177.8,633.9L180.0,632.2L182.1,630.4L184.3,628.6L186.5,626.8L188.6,625.0L190.8,623.2L193.0,621.4L195.1,619.5L197.3,617.7L199.5,615.9L201.7,614.1L203.8,612.3L206.0,610.4L208.2,608.6L210.3,606.7L212.5,604.9L214.7,603.1L216.9,601.2L219.0,599.4L221.2,597.5L223.4,595.6L225.5,593.8L227.7,591.9L229.9,590.1L232.0,588.2L234.2,586.3L236.4,584.4L238.6,582.6L240.7,580.7L242.9,578.8L245.1,576.9L247.2,575.0L249.4,573.2L251.6,571.3L253.8,569.4L255.9,567.5L258.1,565.6L260.3,563.8L262.4,561.9L264.6,560.0L266.8,558.1L268.9,556.3L271.1,554.4L273.3,552.6L275.5,550.7L277.6,548.9L279.8,547.0L282.0,545.2L284.1,543.4L286.3,541.5L288.5,539.7L290.7,537.9L292.8,536.1L295.0,534.3L297.2,532.6L299.3,530.8L301.5,529.1L303.7,527.3L305.8,525.6L308.0,523.9L310.2,522.2L312.4,520.5L314.5,518.9L316.7,517.2L318.9,515.6L321.0,514.0L323.2,512.4L325.4,510.8L327.6,509.3L329.7,507.7L331.9,506.2L334.1,504.7L336.2,503.3L338.4,501.8L340.6,500.4L342.7,499.0L344.9,497.6L347.1,496.3L349.3,494.9L351.4,493.6L353.6,492.4L355.8,491.1L357.9,489.9L360.1,488.7L362.3,487.5L364.5,486.4L366.6,485.2L368.8,484.1L371.0,483.1L373.1,482.0L375.3,481.0L377.5,480.1L379.6,479.1L381.8,478.2L384.0,477.3L386.2,476.4L388.3,475.6L390.5,474.8L392.7,474.0L394.8,473.2L397.0,472.5L399.2,471.8L401.4,471.1L403.5,470.5L405.7,469.9L407.9,469.3L410.0,468.7L412.2,468.2L414.4,467.7L416.5,467.2L418.7,466.7L420.9,466.3L423.1,465.9L425.2,465.5L427.4,465.2L429.6,464.9L431.7,464.6L433.9,464.3L436.1,464.0L438.3,463.8L440.4,463.6L442.6,463.4L444.8,463.3L446.9,463.2L449.1,463.1L451.3,463.0L453.4,462.9L455.6,462.9L457.8,462.9L460.0,462.9L462.1,463.0L464.3,463.0L466.5,463.1L468.6,463.2L470.8,463.3L473.0,463.4L475.1,463.6L477.3,463.7L479.5,463.9L481.7,464.2L483.8,464.4L486.0,464.7L488.2,464.9L490.3,465.2L492.5,465.6L494.7,465.9L496.9,466.3L499.0,466.7L501.2,467.1L503.4,467.5L505.5,468.0L507.7,468.4L509.9,468.9L512.0,469.4L514.2,469.9L516.4,470.5L518.6,471.0L520.7,471.6L522.9,472.2L525.1,472.8L527.2,473.4L529.4,474.0L531.6,474.7L533.8,475.3L535.9,476.0L538.1,476.6L540.3,477.3L542.4,478.0L544.6,478.7L546.8,479.4L548.9,480.2L551.1,480.9L553.3,481.6L555.5,482.4L557.6,483.1L559.8,483.9L562.0,484.6L564.1,485.4L566.3,486.2L568.5,487.0L570.7,487.8L572.8,488.6L575.0,489.3L577.2,490.1L579.3,491.0L581.5,491.8L583.7,492.6L585.8,493.4L588.0,494.2L590.2,495.0L592.4,495.8L594.5,496.7L596.7,497.5L598.9,498.3L601.0,499.2L603.2,500.0L605.4,500.8L607.6,501.7L609.7,502.5L611.9,503.4L614.1,504.2L616.2,505.1L618.4,505.9L620.6,506.8L622.7,507.6L624.9,508.5L627.1,509.3L629.3,510.2L631.4,511.0L633.6,511.9L635.8,512.7L637.9,513.6L640.1,514.5L642.3,515.3L644.5,516.2L646.6,517.0L648.8,517.9L651.0,518.8L653.1,519.6L655.3,520.5L657.5,521.3L659.6,522.2L661.8,523.0L664.0,523.9L666.2,524.8L668.3,525.6L670.5,526.5L672.7,527.3L674.8,528.2L677.0,529.0L679.2,529.9L681.4,530.7L683.5,531.5L685.7,532.4L687.9,533.2L690.0,534.0L692.2,534.8L694.4,535.7L696.5,536.5L698.7,537.3L700.9,538.1L703.1,538.9L705.2,539.7L707.4,540.5L709.6,541.3L711.7,542.0L713.9,542.8L716.1,543.6L718.3,544.3L720.4,545.1L722.6,545.8L724.8,546.6L726.9,547.3L729.1,548.1L731.3,548.8L733.4,549.5L735.6,550.3L737.8,551.0L740.0,551.7L742.1,552.4L744.3,553.2L746.5,553.9L748.6,554.6L750.8,555.3L753.0,556.1L755.2,556.8L757.3,557.6L759.5,558.3L761.7,559.1L763.8,559.9L766.0,560.7L768.2,561.5L770.3,562.4L772.5,563.2L774.7,564.1L776.9,565.0L779.0,566.0L781.2,567.0" stroke="#007FFF"/>
<path d="M132.2,755.7L134.4,754.5L136.5,753.2L138.7,751.8L140.9,750.4L143.1,748.9L145.2,747.4L147.4,745.9L149.6,744.3L151.7,742.7L153.9,741.0L156.1,739.3L158.2,737.6L160.4,735.9L162.6,734.1L164.8,732.3L166.9,730.5L169.1,728.6L171.3,726.8L173.4,724.9L175.6,723.0L177.8,721.0L180.0,719.1L182.1,717.1L184.3,715.1L186.5,713.1L188.6,711.1L190.8,709.1L193.0,707.0L195.1,704.9L197.3,702.8L199.5,700.7L201.7,698.6L203.8,696.5L206.0,694.3L208.2,692.1L210.3,689.9L212.5,687.7L214.7,685.5L216.9,683.3L219.0,681.1L221.2,678.8L223.4,676.5L225.5,674.2L227.7,671.9L229.9,669.6L232.0,667.3L234.2,664.9L236.4,662.5L238.6,660.2L240.7,657.8L242.9,655.4L245.1,652.9L247.2,650.5L249.4,648.0L251.6,645.6L253.8,643.1L255.9,640.6L258.1,638.1L260.3,635.6L262.4,633.1L264.6,630.5L266.8,628.0L268.9,625.4L271.1,622.8L273.3,620.2L275.5,617.6L277.6,615.0L279.8,612.4L282.0,609.8L284.1,607.1L286.3,604.5L288.5,601.8L290.7,599.2L292.8,596.5L295.0,593.8L297.2,591.2L299.3,588.5L301.5,585.8L303.7,583.1L305.8,580.4L308.0,577.8L310.2,575.1L312.4,572.4L314.5,569.7L316.7,567.1L318.9,564.4L321.0,561.7L323.2,559.1L325.4,556.5L327.6,553.8L329.7,551.2L331.9,548.6L334.1,546.0L336.2,543.5L338.4,540.9L340.6,538.4L342.7,535.9L344.9,533.4L347.1,530.9L349.3,528.4L351.4,526.0L353.6,523.6L355.8,521.3L357.9,518.9L360.1,516.6L362.3,514.3L364.5,512.1L366.6,509.9L368.8,507.7L371.0,505.6L373.1,503.5L375.3,501.5L377.5,499.5L379.6,497.5L381.8,495.6L384.0,493.7L386.2,491.9L388.3,490.1L390.5,488.4L392.7,486.7L394.8,485.1L397.0,483.5L399.2,482.0L401.4,480.5L403.5,479.1L405.7,477.8L407.9,476.5L410.0,475.3L412.2,474.1L414.4,473.0L416.5,471.9L418.7,470.9L420.9,470.0L423.1,469.1L425.2,468.3L427.4,467.6L429.6,466.9L431.7,466.2L433.9,465.6L436.1,465.1L438.3,464.7L440.4,464.3L442.6,463.9L444.8,463.6L446.9,463.4L449.1,463.2L451.3,463.0L453.4,462.9L455.6,462.9L457.8,462.9L460.0,463.0L462.1,463.1L464.3,463.2L466.5,463.4L468.6,463.6L470.8,463.9L473.0,464.2L475.1,464.6L477.3,465.0L479.5,465.4L481.7,465.9L483.8,466.4L486.0,467.0L488.2,467.6L490.3,468.2L492.5,468.9L494.7,469.6L496.9,470.3L499.0,471.0L501.2,471.8L503.4,472.6L505.5,473.5L507.7,474.3L509.9,475.2L512.0,476.2L514.2,477.1L516.4,478.1L518.6,479.1L520.7,480.1L522.9,481.1L525.1,482.1L527.2,483.2L529.4,484.3L531.6,485.4L533.8,486.5L535.9,487.6L538.1,488.8L540.3,490.0L542.4,491.1L544.6,492.3L546.8,493.5L548.9,494.7L551.1,495.9L553.3,497.2L555.5,498.4L557.6,499.6L559.8,500.9L562.0,502.2L564.1,503.4L566.3,504.7L568.5,506.0L570.7,507.2L572.8,508.5L575.0,509.8L577.2,511.1L579.3,512.4L581.5,513.7L583.7,515.0L585.8,516.2L588.0,517.5L590.2,518.8L592.4,520.1L594.5,521.4L596.7,522.7L598.9,524.0L601.0,525.2L603.2,526.5L605.4,527.8L607.6,529.1L609.7,530.3L611.9,531.6L614.1,532.8L616.2,534.1L618.4,535.3L620.6,536.6L622.7,537.8L624.9,539.0L627.1,540.3L629.3,541.5L631.4,542.7L633.6,543.9L635.8,545.1L637.9,546.3L640.1,547.5L642.3,548.6L644.5,549.8L646.6,550.9L648.8,552.1L651.0,553.2L653.1,554.4L655.3,555.5L657.5,556.6L659.6,557.7L661.8,558.8L664.0,559.9L666.2,561.0L668.3,562.1L670.5,563.2L672.7,564.2L674.8,565.3L677.0,566.4L679.2,567.4L681.4,568.4L683.5,569.5L685.7,570.5L687.9,571.5L690.0,572.5L692.2,573.5L694.4,574.5L696.5,575.5L698.7,576.5L700.9,577.4L703.1,578.4L705.2,579.4L707.4,580.3L709.6,581.3L711.7,582.2L713.9,583.1L716.1,584.1L718.3,585.0L720.4,585.9L722.6,586.9L724.8,587.8L726.9,588.7L729.1,589.6L731.3,590.5L733.4,591.4L735.6,592.3L737.8,593.2L740.0,594.1L742.1,594.9L744.3,595.8L746.5,596.7L748.6,597.6L750.8,598.5L753.0,599.3L755.2,600.2L757.3,601.1L759.5,601.9L761.7,602.8L763.8,603.7L766.0,604.5L768.2,605.4L770.3,606.2L772.5,607.1L774.7,607.9L776.9,608.8L779.0,609.6L781.2,610.5" stroke="#FF0000"/>
<path d="M132.2,809.9L134.4,808.9L136.5,807.9L138.7,806.8L140.9,805.7L143.1,804.4L145.2,803.1L147.4,801.7L149.6,800.3L151.7,798.9L153.9,797.3L156.1,795.8L158.2,794.2L160.4,792.6L162.6,790.9L164.8,789.2L166.9,787.5L169.1,785.7L171.3,784.0L173.4,782.2L175.6,780.4L177.8,778.5L180.0,776.7L182.1,774.8L184.3,772.9L186.5,771.0L188.6,769.1L190.8,767.2L193.0,765.3L195.1,763.3L197.3,761.3L199.5,759.4L201.7,757.4L203.8,755.4L206.0,753.4L208.2,751.3L210.3,749.3L212.5,747.2L214.7,745.1L216.9,743.0L219.0,740.9L221.2,738.8L223.4,736.6L225.5,734.4L227.7,732.2L229.9,730.0L232.0,727.8L234.2,725.5L236.4,723.2L238.6,720.9L240.7,718.5L242.9,716.2L245.1,713.8L247.2,711.3L249.4,708.9L251.6,706.4L253.8,703.9L255.9,701.3L258.1,698.7L260.3,696.1L262.4,693.5L264.6,690.8L266.8,688.1L268.9,685.3L271.1,682.6L273.3,679.8L275.5,676.9L277.6,674.0L279.8,671.1L282.0,668.2L284.1,665.2L286.3,662.2L288.5,659.1L290.7,656.0L292.8,652.9L295.0,649.8L297.2,646.6L299.3,643.4L301.5,640.2L303.7,636.9L305.8,633.7L308.0,630.3L310.2,627.0L312.4,623.7L314.5,620.3L316.7,616.9L318.9,613.5L321.0,610.1L323.2,606.6L325.4,603.2L327.6,599.7L329.7,596.2L331.9,592.7L334.1,589.2L336.2,585.8L338.4,582.3L340.6,578.8L342.7,575.3L344.9,571.8L347.1,568.4L349.3,564.9L351.4,561.5L353.6,558.0L355.8,554.6L357.9,551.3L360.1,547.9L362.3,544.6L364.5,541.3L366.6,538.0L368.8,534.8L371.0,531.6L373.1,528.5L375.3,525.4L377.5,522.3L379.6,519.3L381.8,516.3L384.0,513.5L386.2,510.6L388.3,507.8L390.5,505.1L392.7,502.5L394.8,499.9L397.0,497.4L399.2,495.0L401.4,492.6L403.5,490.4L405.7,488.2L407.9,486.1L410.0,484.0L412.2,482.1L414.4,480.2L416.5,478.5L418.7,476.8L420.9,475.2L423.1,473.8L425.2,472.4L427.4,471.1L429.6,469.9L431.7,468.8L433.9,467.8L436.1,466.9L438.3,466.1L440.4,465.3L442.6,464.7L444.8,464.2L446.9,463.8L449.1,463.4L451.3,463.2L453.4,463.0L455.6,462.9L457.8,462.9L460.0,463.0L462.1,463.2L464.3,463.4L466.5,463.7L468.6,464.2L470.8,464.6L473.0,465.2L475.1,465.8L477.3,466.5L479.5,467.2L481.7,468.0L483.8,468.8L486.0,469.7L488.2,470.7L490.3,471.7L492.5,472.8L494.7,473.9L496.9,475.0L499.0,476.2L501.2,477.4L503.4,478.7L505.5,480.0L507.7,481.3L509.9,482.6L512.0,484.0L514.2,485.4L516.4,486.9L518.6,488.3L520.7,489.8L522.9,491.3L525.1,492.8L527.2,494.4L529.4,495.9L531.6,497.5L533.8,499.1L535.9,500.7L538.1,502.3L540.3,503.9L542.4,505.5L544.6,507.2L546.8,508.8L548.9,510.5L551.1,512.1L553.3,513.8L555.5,515.4L557.6,517.1L559.8,518.7L562.0,520.4L564.1,522.0L566.3,523.7L568.5,525.4L570.7,527.0L572.8,528.6L575.0,530.3L577.2,531.9L579.3,533.5L581.5,535.2L583.7,536.8L585.8,538.4L588.0,540.0L590.2,541.6L592.4,543.1L594.5,544.7L596.7,546.3L598.9,547.8L601.0,549.4L603.2,550.9L605.4,552.4L607.6,553.9L609.7,555.4L611.9,556.9L614.1,558.4L616.2,559.8L618.4,561.3L620.6,562.7L622.7,564.1L624.9,565.5L627.1,566.9L629.3,568.3L631.4,569.7L633.6,571.1L635.8,572.4L637.9,573.8L640.1,575.1L642.3,576.4L644.5,577.7L646.6,579.0L648.8,580.3L651.0,581.5L653.1,582.8L655.3,584.0L657.5,585.3L659.6,586.5L661.8,587.7L664.0,588.9L666.2,590.1L668.3,591.2L670.5,592.4L672.7,593.6L674.8,594.7L677.0,595.8L679.2,597.0L681.4,598.1L683.5,599.2L685.7,600.3L687.9,601.3L690.0,602.4L692.2,603.5L694.4,604.5L696.5,605.6L698.7,606.6L700.9,607.7L703.1,608.7L705.2,609.7L707.4,610.7L709.6,611.7L711.7,612.7L713.9,613.7L716.1,614.6L718.3,615.6L720.4,616.5L722.6,617.5L724.8,618.4L726.9,619.4L729.1,620.3L731.3,621.2L733.4,622.1L735.6,623.0L737.8,623.9L740.0,624.8L742.1,625.7L744.3,626.5L746.5,627.4L748.6,628.2L750.8,629.1L753.0,629.9L755.2,630.7L757.3,631.6L759.5,632.4L761.7,633.1L763.8,633.9L766.0,634.7L768.2,635.4L770.3,636.2L772.5,636.9L774.7,637.6L776.9,638.3L779.0,639.0L781.2,639.7" stroke="#7F00FF"/>
</g>
<g fill="none" stroke-width="3.7" stroke-linejoin="round" stroke-linecap="round">
<path d="M846.3,462.9H1495.3" stroke="#000000"/>
<path d="M846.3,670.1L848.5,668.5L850.6,666.9L852.8,665.3L855.0,663.6L857.2,661.9L859.3,660.3L861.5,658.6L863.7,656.9L865.8,655.2L868.0,653.5L870.2,651.8L872.3,650.0L874.5,648.3L876.7,646.5L878.9,644.8L881.0,643.0L883.2,641.2L885.4,639.5L887.5,637.7L889.7,635.9L891.9,634.1L894.1,632.3L896.2,630.5L898.4,628.7L900.6,626.8L902.7,625.0L904.9,623.2L907.1,621.3L909.2,619.5L911.4,617.6L913.6,615.8L915.8,613.9L917.9,612.1L920.1,610.2L922.3,608.4L924.4,606.5L926.6,604.6L928.8,602.8L931.0,600.9L933.1,599.0L935.3,597.1L937.5,595.2L939.6,593.4L941.8,591.5L944.0,589.6L946.1,587.7L948.3,585.8L950.5,583.9L952.7,582.1L954.8,580.2L957.0,578.3L959.2,576.4L961.3,574.5L963.5,572.7L965.7,570.8L967.9,568.9L970.0,567.0L972.2,565.2L974.4,563.3L976.5,561.5L978.7,559.6L980.9,557.7L983.0,555.9L985.2,554.1L987.4,552.2L989.6,550.4L991.7,548.6L993.9,546.8L996.1,545.0L998.2,543.2L1000.4,541.4L1002.6,539.6L1004.8,537.8L1006.9,536.1L1009.1,534.3L1011.3,532.6L1013.4,530.8L1015.6,529.1L1017.8,527.4L1019.9,525.7L1022.1,524.0L1024.3,522.4L1026.5,520.7L1028.6,519.1L1030.8,517.5L1033.0,515.8L1035.1,514.3L1037.3,512.7L1039.5,511.1L1041.7,509.6L1043.8,508.1L1046.0,506.6L1048.2,505.1L1050.3,503.6L1052.5,502.2L1054.7,500.7L1056.8,499.3L1059.0,497.9L1061.2,496.6L1063.4,495.2L1065.5,493.9L1067.7,492.6L1069.9,491.4L1072.0,490.1L1074.2,488.9L1076.4,487.7L1078.6,486.5L1080.7,485.4L1082.9,484.3L1085.1,483.2L1087.2,482.1L1089.4,481.1L1091.6,480.1L1093.7,479.1L1095.9,478.2L1098.1,477.2L1100.3,476.3L1102.4,475.5L1104.6,474.6L1106.8,473.8L1108.9,473.0L1111.1,472.3L1113.3,471.6L1115.5,470.9L1117.6,470.2L1119.8,469.6L1122.0,469.0L1124.1,468.4L1126.3,467.9L1128.5,467.4L1130.6,466.9L1132.8,466.4L1135.0,466.0L1137.2,465.6L1139.3,465.3L1141.5,464.9L1143.7,464.6L1145.8,464.3L1148.0,464.1L1150.2,463.9L1152.4,463.7L1154.5,463.5L1156.7,463.3L1158.9,463.2L1161.0,463.1L1163.2,463.0L1165.4,463.0L1167.5,462.9L1169.7,462.9L1171.9,462.9L1174.1,462.9L1176.2,463.0L1178.4,463.1L1180.6,463.2L1182.7,463.3L1184.9,463.4L1187.1,463.6L1189.2,463.8L1191.4,464.0L1193.6,464.3L1195.8,464.6L1197.9,464.8L1200.1,465.1L1202.3,465.5L1204.4,465.8L1206.6,466.2L1208.8,466.6L1211.0,467.0L1213.1,467.4L1215.3,467.8L1217.5,468.3L1219.6,468.7L1221.8,469.2L1224.0,469.7L1226.1,470.2L1228.3,470.7L1230.5,471.3L1232.7,471.8L1234.8,472.4L1237.0,473.0L1239.2,473.5L1241.3,474.1L1243.5,474.8L1245.7,475.4L1247.9,476.0L1250.0,476.7L1252.2,477.3L1254.4,478.0L1256.5,478.6L1258.7,479.3L1260.9,480.0L1263.0,480.7L1265.2,481.4L1267.4,482.1L1269.6,482.8L1271.7,483.6L1273.9,484.3L1276.1,485.0L1278.2,485.8L1280.4,486.5L1282.6,487.3L1284.8,488.1L1286.9,488.8L1289.1,489.6L1291.3,490.4L1293.4,491.2L1295.6,492.0L1297.8,492.8L1299.9,493.6L1302.1,494.4L1304.3,495.2L1306.5,496.0L1308.6,496.8L1310.8,497.6L1313.0,498.4L1315.1,499.2L1317.3,500.0L1319.5,500.9L1321.7,501.7L1323.8,502.5L1326.0,503.4L1328.2,504.2L1330.3,505.0L1332.5,505.9L1334.7,506.7L1336.8,507.5L1339.0,508.4L1341.2,509.2L1343.4,510.1L1345.5,510.9L1347.7,511.7L1349.9,512.6L1352.0,513.4L1354.2,514.3L1356.4,515.1L1358.6,516.0L1360.7,516.8L1362.9,517.7L1365.1,518.5L1367.2,519.4L1369.4,520.2L1371.6,521.1L1373.7,521.9L1375.9,522.8L1378.1,523.6L1380.3,524.5L1382.4,525.3L1384.6,526.2L1386.8,527.0L1388.9,527.9L1391.1,528.7L1393.3,529.5L1395.5,530.4L1397.6,531.2L1399.8,532.1L1402.0,532.9L1404.1,533.8L1406.3,534.6L1408.5,535.4L1410.6,536.3L1412.8,537.1L1415.0,537.9L1417.2,538.8L1419.3,539.6L1421.5,540.4L1423.7,541.3L1425.8,542.1L1428.0,542.9L1430.2,543.7L1432.4,544.6L1434.5,545.4L1436.7,546.2L1438.9,547.0L1441.0,547.8L1443.2,548.6L1445.4,549.4L1447.5,550.2L1449.7,551.0L1451.9,551.8L1454.1,552.6L1456.2,553.4L1458.4,554.1L1460.6,554.9L1462.7,555.7L1464.9,556.4L1467.1,557.2L1469.3,558.0L1471.4,558.7L1473.6,559.4L1475.8,560.2L1477.9,560.9L1480.1,561.6L1482.3,562.3L1484.4,563.0L1486.6,563.7L1488.8,564.4L1491.0,565.1L1493.1,565.8L1495.3,566.4" stroke="#007FFF"/>
<path d="M846.3,733.2L848.5,731.0L850.6,728.7L852.8,726.5L855.0,724.3L857.2,722.1L859.3,719.9L861.5,717.7L863.7,715.5L865.8,713.3L868.0,711.1L870.2,708.9L872.3,706.7L874.5,704.6L876.7,702.4L878.9,700.2L881.0,698.0L883.2,695.8L885.4,693.6L887.5,691.4L889.7,689.2L891.9,687.0L894.1,684.8L896.2,682.5L898.4,680.3L900.6,678.0L902.7,675.8L904.9,673.5L907.1,671.2L909.2,669.0L911.4,666.7L913.6,664.4L915.8,662.0L917.9,659.7L920.1,657.4L922.3,655.1L924.4,652.7L926.6,650.3L928.8,648.0L931.0,645.6L933.1,643.2L935.3,640.8L937.5,638.4L939.6,636.0L941.8,633.6L944.0,631.2L946.1,628.8L948.3,626.3L950.5,623.9L952.7,621.5L954.8,619.0L957.0,616.6L959.2,614.1L961.3,611.7L963.5,609.2L965.7,606.8L967.9,604.3L970.0,601.9L972.2,599.4L974.4,597.0L976.5,594.5L978.7,592.1L980.9,589.7L983.0,587.2L985.2,584.8L987.4,582.4L989.6,580.0L991.7,577.6L993.9,575.2L996.1,572.8L998.2,570.4L1000.4,568.1L1002.6,565.7L1004.8,563.4L1006.9,561.1L1009.1,558.7L1011.3,556.4L1013.4,554.2L1015.6,551.9L1017.8,549.6L1019.9,547.4L1022.1,545.2L1024.3,543.0L1026.5,540.8L1028.6,538.7L1030.8,536.5L1033.0,534.4L1035.1,532.3L1037.3,530.3L1039.5,528.2L1041.7,526.2L1043.8,524.2L1046.0,522.2L1048.2,520.3L1050.3,518.3L1052.5,516.5L1054.7,514.6L1056.8,512.7L1059.0,510.9L1061.2,509.1L1063.4,507.4L1065.5,505.7L1067.7,504.0L1069.9,502.3L1072.0,500.7L1074.2,499.1L1076.4,497.5L1078.6,495.9L1080.7,494.4L1082.9,493.0L1085.1,491.5L1087.2,490.1L1089.4,488.7L1091.6,487.4L1093.7,486.1L1095.9,484.8L1098.1,483.6L1100.3,482.4L1102.4,481.2L1104.6,480.1L1106.8,479.0L1108.9,477.9L1111.1,476.9L1113.3,475.9L1115.5,474.9L1117.6,474.0L1119.8,473.1L1122.0,472.3L1124.1,471.5L1126.3,470.7L1128.5,469.9L1130.6,469.2L1132.8,468.6L1135.0,467.9L1137.2,467.4L1139.3,466.8L1141.5,466.3L1143.7,465.8L1145.8,465.4L1148.0,464.9L1150.2,464.6L1152.4,464.2L1154.5,463.9L1156.7,463.7L1158.9,463.5L1161.0,463.3L1163.2,463.1L1165.4,463.0L1167.5,462.9L1169.7,462.9L1171.9,462.9L1174.1,462.9L1176.2,463.0L1178.4,463.2L1180.6,463.3L1182.7,463.5L1184.9,463.7L1187.1,464.0L1189.2,464.3L1191.4,464.6L1193.6,465.0L1195.8,465.3L1197.9,465.8L1200.1,466.2L1202.3,466.6L1204.4,467.1L1206.6,467.6L1208.8,468.2L1211.0,468.7L1213.1,469.3L1215.3,469.9L1217.5,470.5L1219.6,471.1L1221.8,471.8L1224.0,472.4L1226.1,473.1L1228.3,473.8L1230.5,474.5L1232.7,475.2L1234.8,476.0L1237.0,476.7L1239.2,477.5L1241.3,478.3L1243.5,479.1L1245.7,479.9L1247.9,480.7L1250.0,481.5L1252.2,482.4L1254.4,483.2L1256.5,484.1L1258.7,485.0L1260.9,485.8L1263.0,486.7L1265.2,487.6L1267.4,488.6L1269.6,489.5L1271.7,490.4L1273.9,491.3L1276.1,492.3L1278.2,493.3L1280.4,494.2L1282.6,495.2L1284.8,496.2L1286.9,497.2L1289.1,498.2L1291.3,499.2L1293.4,500.2L1295.6,501.2L1297.8,502.2L1299.9,503.3L1302.1,504.3L1304.3,505.4L1306.5,506.4L1308.6,507.5L1310.8,508.5L1313.0,509.6L1315.1,510.7L1317.3,511.8L1319.5,512.8L1321.7,513.9L1323.8,515.0L1326.0,516.1L1328.2,517.2L1330.3,518.3L1332.5,519.4L1334.7,520.6L1336.8,521.7L1339.0,522.8L1341.2,523.9L1343.4,525.0L1345.5,526.2L1347.7,527.3L1349.9,528.4L1352.0,529.6L1354.2,530.7L1356.4,531.9L1358.6,533.0L1360.7,534.1L1362.9,535.3L1365.1,536.4L1367.2,537.6L1369.4,538.7L1371.6,539.8L1373.7,541.0L1375.9,542.1L1378.1,543.2L1380.3,544.4L1382.4,545.5L1384.6,546.6L1386.8,547.8L1388.9,548.9L1391.1,550.0L1393.3,551.1L1395.5,552.2L1397.6,553.4L1399.8,554.5L1402.0,555.6L1404.1,556.7L1406.3,557.8L1408.5,558.9L1410.6,559.9L1412.8,561.0L1415.0,562.1L1417.2,563.2L1419.3,564.2L1421.5,565.3L1423.7,566.3L1425.8,567.4L1428.0,568.4L1430.2,569.4L1432.4,570.5L1434.5,571.5L1436.7,572.5L1438.9,573.5L1441.0,574.5L1443.2,575.5L1445.4,576.5L1447.5,577.5L1449.7,578.5L1451.9,579.5L1454.1,580.5L1456.2,581.4L1458.4,582.4L1460.6,583.3L1462.7,584.3L1464.9,585.3L1467.1,586.2L1469.3,587.2L1471.4,588.1L1473.6,589.1L1475.8,590.0L1477.9,591.0L1480.1,591.9L1482.3,592.9L1484.4,593.9L1486.6,594.8L1488.8,595.8L1491.0,596.8L1493.1,597.8L1495.3,598.8" stroke="#FF0000"/>
</g>
<text x="57.11" y="47.50" font-size="35.0">−0.8</text>
<text x="57.11" y="120.39" font-size="35.0">−1.0</text>
<text x="57.11" y="193.28" font-size="35.0">−1.2</text>
<text x="57.11" y="266.17" font-size="35.0">−1.4</text>
<text x="57.11" y="339.06" font-size="35.0">−1.6</text>
<text x="76.85" y="504.65" font-size="35.0">0.2</text>
<text x="76.85" y="570.41" font-size="35.0">0.1</text>
<text x="103.10" y="636.16" font-size="35.0">0</text>
<text x="57.11" y="701.92" font-size="35.0">−0.1</text>
<text x="57.11" y="767.67" font-size="35.0">−0.2</text>
<text x="57.11" y="833.42" font-size="35.0">−0.3</text>
<text x="123.05" y="883.00" font-size="35.0">0</text>
<text x="244.12" y="883.00" font-size="35.0">0.2</text>
<text x="373.23" y="883.00" font-size="35.0">0.4</text>
<text x="503.28" y="883.00" font-size="35.0">0.6</text>
<text x="633.23" y="883.00" font-size="35.0">0.8</text>
<text x="771.96" y="883.00" font-size="35.0">1</text>
<text x="837.15" y="883.00" font-size="35.0">0</text>
<text x="958.22" y="883.00" font-size="35.0">0.2</text>
<text x="1087.33" y="883.00" font-size="35.0">0.4</text>
<text x="1217.38" y="883.00" font-size="35.0">0.6</text>
<text x="1347.33" y="883.00" font-size="35.0">0.8</text>
<text x="1486.06" y="883.00" font-size="35.0">1</text>
<text x="445.52" y="940.80" font-size="35.0" font-style="italic">x</text>
<text x="1165.97" y="940.80" font-size="35.0" font-style="italic">x</text>
<path d="M431.9,202.1H468.5" stroke="#000000" stroke-width="3.7"/><text x="482.43" y="211.40" font-size="34.4" font-style="italic">p</text><path d="M431.9,242.4H468.5" stroke="#007FFF" stroke-width="3.7"/><text x="482.14" y="251.70" font-size="34.4" font-style="italic" fill="#007FFF">d</text><path d="M431.9,282.5H468.5" stroke="#FF0000" stroke-width="3.7"/><text x="484.35" y="291.80" font-size="34.4" font-style="italic" fill="#FF0000">f</text><path d="M431.9,322.5H468.5" stroke="#7F00FF" stroke-width="3.7"/><text x="483.80" y="331.80" font-size="34.4" font-style="italic" fill="#7F00FF">g</text>
<path d="M431.9,643.2H468.5" stroke="#000000" stroke-width="3.7"/><text x="482.43" y="652.50" font-size="34.4" font-style="italic">p</text><path d="M431.9,683.5H468.5" stroke="#007FFF" stroke-width="3.7"/><text x="482.14" y="692.80" font-size="34.4" font-style="italic" fill="#007FFF">d</text><path d="M431.9,723.6H468.5" stroke="#FF0000" stroke-width="3.7"/><text x="484.35" y="732.90" font-size="34.4" font-style="italic" fill="#FF0000">f</text><path d="M431.9,763.6H468.5" stroke="#7F00FF" stroke-width="3.7"/><text x="483.80" y="772.90" font-size="34.4" font-style="italic" fill="#7F00FF">g</text>
<path d="M1113.7,242.7H1149.9" stroke="#000000" stroke-width="3.7"/><text x="1163.82" y="252.00" font-size="34.4" font-style="italic">k</text><path d="M1189.30,239.35H1207.00M1189.30,246.05H1207.00" stroke="#000000" stroke-width="2.1" fill="none"/><text x="1216.62" y="252.00" font-size="34.4">1</text><path d="M1113.7,282.7H1149.9" stroke="#007FFF" stroke-width="3.7"/><text x="1163.82" y="292.00" font-size="34.4" font-style="italic" fill="#007FFF">k</text><path d="M1189.30,279.35H1207.00M1189.30,286.05H1207.00" stroke="#007FFF" stroke-width="2.1" fill="none"/><text x="1216.95" y="292.00" font-size="34.4" fill="#007FFF">3</text><path d="M1113.7,322.6H1149.9" stroke="#FF0000" stroke-width="3.7"/><text x="1163.82" y="331.90" font-size="34.4" font-style="italic" fill="#FF0000">k</text><path d="M1189.30,319.25H1207.00M1189.30,325.95H1207.00" stroke="#FF0000" stroke-width="2.1" fill="none"/><text x="1216.77" y="331.90" font-size="34.4" fill="#FF0000">5</text>
<path d="M1113.7,683.8H1149.9" stroke="#000000" stroke-width="3.7"/><text x="1163.82" y="693.10" font-size="34.4" font-style="italic">k</text><path d="M1189.30,680.45H1207.00M1189.30,687.15H1207.00" stroke="#000000" stroke-width="2.1" fill="none"/><text x="1216.62" y="693.10" font-size="34.4">1</text><path d="M1113.7,723.8H1149.9" stroke="#007FFF" stroke-width="3.7"/><text x="1163.82" y="733.10" font-size="34.4" font-style="italic" fill="#007FFF">k</text><path d="M1189.30,720.45H1207.00M1189.30,727.15H1207.00" stroke="#007FFF" stroke-width="2.1" fill="none"/><text x="1216.95" y="733.10" font-size="34.4" fill="#007FFF">3</text><path d="M1113.7,763.7H1149.9" stroke="#FF0000" stroke-width="3.7"/><text x="1163.82" y="773.00" font-size="34.4" font-style="italic" fill="#FF0000">k</text><path d="M1189.30,760.35H1207.00M1189.30,767.05H1207.00" stroke="#FF0000" stroke-width="2.1" fill="none"/><text x="1216.77" y="773.00" font-size="34.4" fill="#FF0000">5</text>
<text x="166.19" y="373.90" font-size="42.3" font-weight="bold">(a)</text><text x="333.16" y="373.90" font-size="42.3">3n</text><path d="M388.50,362.70H410.10M399.30,351.90V373.50" stroke="#000000" stroke-width="2.4" fill="none"/><text x="422.96" y="373.90" font-size="42.3">3p</text><text x="494.62" y="373.90" font-size="42.3" font-style="italic">S</text><path d="M526.15,358.50H547.85M526.15,367.30H547.85" stroke="#000000" stroke-width="2.5" fill="none"/><text x="558.02" y="373.90" font-size="42.3">0</text>
<text x="165.53" y="815.10" font-size="42.3" font-weight="bold">(c)</text><text x="333.16" y="815.10" font-size="42.3">3n</text><path d="M388.50,803.90H410.10M399.30,793.10V814.70" stroke="#000000" stroke-width="2.4" fill="none"/><text x="422.96" y="815.10" font-size="42.3">3p</text><text x="494.62" y="815.10" font-size="42.3" font-style="italic">S</text><path d="M526.15,799.70H547.85M526.15,808.50H547.85" stroke="#000000" stroke-width="2.5" fill="none"/><text x="558.02" y="815.10" font-size="42.3">1</text>
<text x="879.65" y="373.90" font-size="42.3" font-weight="bold">(b)</text><text x="968.23" y="373.90" font-size="42.3" font-style="italic">d</text><text x="1007.71" y="373.90" font-size="42.3">shell</text><text x="1105.49" y="373.90" font-size="42.3" font-style="italic">k</text><text x="1132.46" y="373.90" font-size="42.3">n</text><path d="M1166.50,362.70H1188.10M1177.30,351.90V373.50" stroke="#000000" stroke-width="2.4" fill="none"/><text x="1209.29" y="373.90" font-size="42.3" font-style="italic">k</text><text x="1236.61" y="373.90" font-size="42.3">p</text><text x="1287.02" y="373.90" font-size="42.3" font-style="italic">S</text><path d="M1318.25,358.50H1339.95M1318.25,367.30H1339.95" stroke="#000000" stroke-width="2.5" fill="none"/><text x="1350.22" y="373.90" font-size="42.3">0</text>
<text x="879.65" y="815.10" font-size="42.3" font-weight="bold">(d)</text><text x="968.23" y="815.10" font-size="42.3" font-style="italic">d</text><text x="1007.71" y="815.10" font-size="42.3">shell</text><text x="1105.49" y="815.10" font-size="42.3" font-style="italic">k</text><text x="1132.46" y="815.10" font-size="42.3">n</text><path d="M1166.50,803.90H1188.10M1177.30,793.10V814.70" stroke="#000000" stroke-width="2.4" fill="none"/><text x="1209.29" y="815.10" font-size="42.3" font-style="italic">k</text><text x="1236.61" y="815.10" font-size="42.3">p</text><text x="1287.02" y="815.10" font-size="42.3" font-style="italic">S</text><path d="M1318.25,799.70H1339.95M1318.25,808.50H1339.95" stroke="#000000" stroke-width="2.5" fill="none"/><text x="1350.22" y="815.10" font-size="42.3">1</text>
<path d="M0.4,259.3L14.2,266.2L28,259.3M0.4,155.1L14.2,148.4L28,155.1" stroke="#000" stroke-width="1.5" fill="none" stroke-linejoin="miter"/><text transform="translate(24.20,251.61) rotate(-90)" font-size="36.5" font-weight="bold" font-style="italic">S</text><text transform="translate(27.20,231.44) rotate(-90)" font-size="23">n</text><circle cx="13.8" cy="207.4" r="2.1" fill="#000"/><text transform="translate(24.20,198.31) rotate(-90)" font-size="36.5" font-weight="bold" font-style="italic">S</text><text transform="translate(27.20,177.59) rotate(-90)" font-size="23">p</text>
<path d="M0.4,691.2L14.2,698.1L28,691.2M0.4,587.0L14.2,580.3L28,587.0" stroke="#000" stroke-width="1.5" fill="none" stroke-linejoin="miter"/><text transform="translate(24.20,683.51) rotate(-90)" font-size="36.5" font-weight="bold" font-style="italic">S</text><text transform="translate(27.20,663.34) rotate(-90)" font-size="23">n</text><circle cx="13.8" cy="639.3" r="2.1" fill="#000"/><text transform="translate(24.20,630.21) rotate(-90)" font-size="36.5" font-weight="bold" font-style="italic">S</text><text transform="translate(27.20,609.49) rotate(-90)" font-size="23">p</text>
</svg></body></html>
